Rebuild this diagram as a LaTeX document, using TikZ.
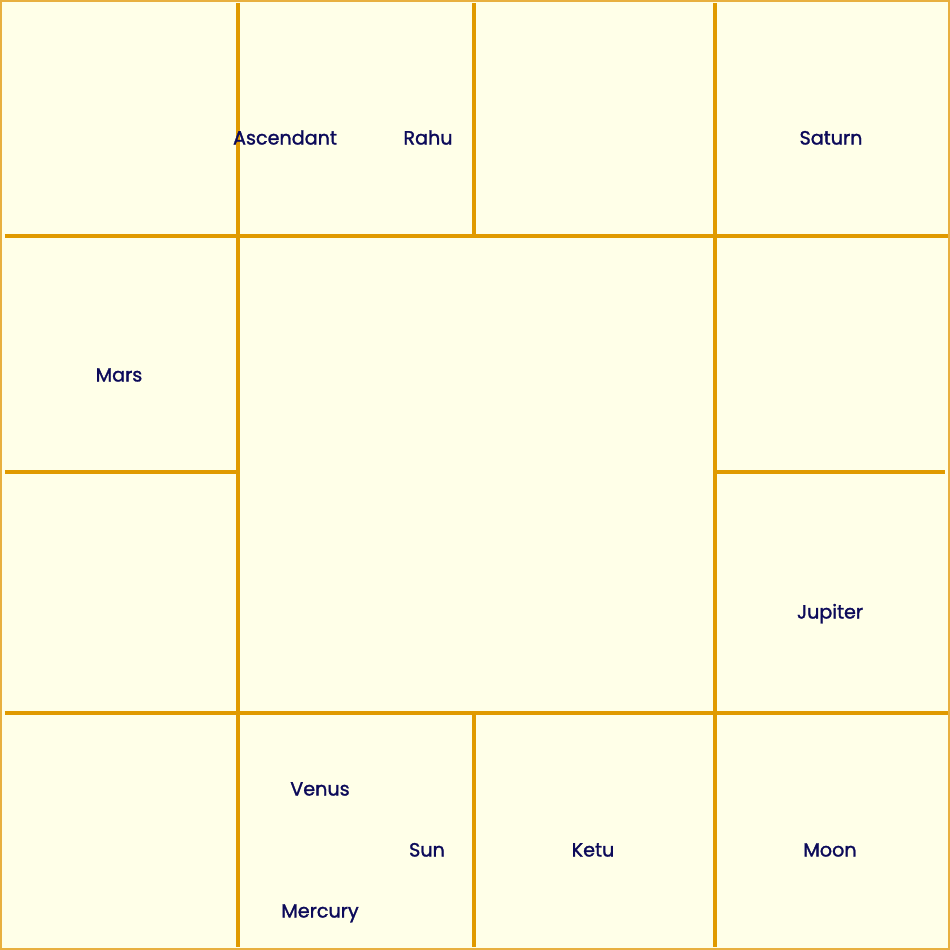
\documentclass[tikz,border=0pt]{standalone}
\usepackage{fontspec}
\setmainfont{Poppins}
\newfontfamily\planetfont{Poppins}[FakeBold=1.4]
\usetikzlibrary{positioning}
\definecolor{chartBg}{RGB}{255,255,232}
\definecolor{chartLine}{RGB}{224,154,0}
\definecolor{chartFrame}{RGB}{232,176,64}
\definecolor{planetInk}{RGB}{12,10,90}

\begin{document}
\begin{tikzpicture}[
  x=0.01cm, y=-0.01cm,
  frame/.style={draw=chartFrame,fill=chartBg,line width=0.02cm},
  cell/.style={draw=chartLine,line width=0.04cm},
  planet/.style={text=planetInk,font=\planetfont\fontsize{5.45pt}{6pt}\selectfont,
                 inner sep=0pt,anchor=base}
]

% ==========  Background and outer frame  ==========
\useasboundingbox (0,0) rectangle (950,950);
\draw[frame] (1,1) rectangle (949,949);

% ==========  Grid lines of the chart  ==========
\draw[cell] (238,3) -- (238,947);
\draw[cell] (715,3) -- (715,947);
\draw[cell] (474,3) -- (474,236);
\draw[cell] (474,713) -- (474,947);

\draw[cell] (5,236) -- (948,236);
\draw[cell] (5,713) -- (948,713);
\draw[cell] (5,472) -- (238,472);
\draw[cell] (715,472) -- (945,472);

% ==========  Planets (top row)  ==========
\node[planet] (asc) at (285,144.5) {Ascendant};
\node[planet] (rahu) at (428,144.5) {Rahu};
\node[planet] (saturn) at (831,144.5) {Saturn};

% ==========  Planets (side columns)  ==========
\node[planet] (mars) at (119,381.5) {Mars};
\node[planet] (jupiter) at (830,618.5) {Jupiter};

% ==========  Planets (bottom row)  ==========
\node[planet] (venus) at (320,795.5) {Venus};
\node[planet] (sun) at (427,856.5) {Sun};
\node[planet] (mercury) at (320,917.5) {Mercury};
\node[planet] (ketu) at (593,856.5) {Ketu};
\node[planet] (moon) at (830,856.5) {Moon};

\end{tikzpicture}
\end{document}
